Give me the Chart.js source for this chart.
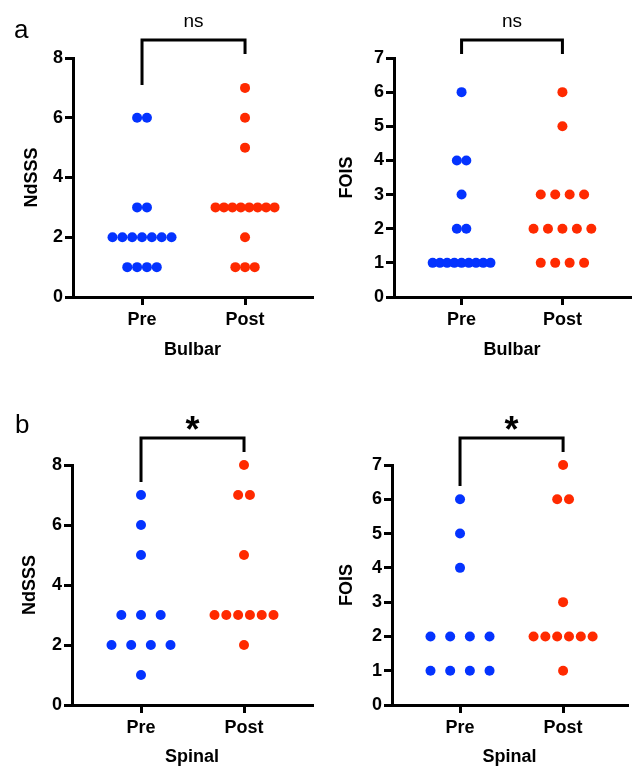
<!DOCTYPE html>
<html>
<head>
<meta charset="utf-8">
<script src="https://cdn.jsdelivr.net/npm/chart.js@4.4.0/dist/chart.umd.min.js"></script>
<style>
  html, body { margin: 0; padding: 0; background: #fff; overflow: hidden; }
  .panel { position: absolute; }
</style>
</head>
<body>
<div class="panel" style="left:0;top:0;width:317px;height:384px"><canvas id="chart1"></canvas></div>
<div class="panel" style="left:317px;top:0;width:318px;height:384px"><canvas id="chart2"></canvas></div>
<div class="panel" style="left:0;top:384px;width:317px;height:385px"><canvas id="chart3"></canvas></div>
<div class="panel" style="left:317px;top:384px;width:318px;height:385px"><canvas id="chart4"></canvas></div>
<script>
const groups = ["Pre", "Post"];

// Bulbar
const bulbarNdsssPre = [6, 6, 3, 3, 2, 2, 2, 2, 2, 2, 2, 1, 1, 1, 1];
const bulbarNdsssPost = [7, 6, 5, 3, 3, 3, 3, 3, 3, 3, 3, 2, 1, 1, 1];
const bulbarFoisPre = [6, 4, 4, 3, 2, 2, 1, 1, 1, 1, 1, 1, 1, 1, 1];
const bulbarFoisPost = [6, 5, 3, 3, 3, 3, 2, 2, 2, 2, 2, 1, 1, 1, 1];

// Spinal
const spinalNdsssPre = [7, 6, 5, 3, 3, 3, 2, 2, 2, 2, 1];
const spinalNdsssPost = [8, 7, 7, 5, 3, 3, 3, 3, 3, 3, 2];
const spinalFoisPre = [6, 5, 4, 2, 2, 2, 2, 1, 1, 1, 1];
const spinalFoisPost = [7, 6, 6, 3, 2, 2, 2, 2, 2, 2, 1];

const ndsssTicks = [0, 2, 4, 6, 8];
const foisTicks = [0, 1, 2, 3, 4, 5, 6, 7];

const BLUE = "#0433FF";
const RED = "#FF2A00";
const FONT = "'Liberation Sans', Arial, Helvetica, sans-serif";
const SWARM_WIDTH = 0.573; // column width, in x units
const MIN_STEP = 0.094;    // about one dot diameter

// spread equal values side by side, like a column scatter
function swarm(values, center) {
  const counts = {};
  values.forEach((v) => (counts[v] = (counts[v] || 0) + 1));
  const maxN = Math.max(...Object.values(counts));
  const step = maxN > 1 ? SWARM_WIDTH / (maxN - 1) : 0;
  const seen = {};
  return values.map((v) => {
    const n = counts[v];
    const i = (seen[v] = seen[v] === undefined ? 0 : seen[v] + 1);
    let s = step;
    if ((n - 1) * MIN_STEP <= SWARM_WIDTH) s = Math.max(step, MIN_STEP);
    return { x: center + (i - (n - 1) / 2) * s, y: v };
  });
}

const bracketPlugin = {
  id: "bracket",
  afterDraw(chart, args, opts) {
    const { ctx } = chart;
    const x = chart.scales.x;
    const y = chart.scales.y;
    const x0 = x.getPixelForValue(0);
    const x1 = x.getPixelForValue(1);
    const yb = y.getPixelForValue(opts.top);
    ctx.save();
    ctx.strokeStyle = "#000";
    ctx.lineWidth = 3;
    ctx.beginPath();
    ctx.moveTo(x0, y.getPixelForValue(opts.leftEnd));
    ctx.lineTo(x0, yb);
    ctx.lineTo(x1, yb);
    ctx.lineTo(x1, y.getPixelForValue(opts.rightEnd));
    ctx.stroke();
    ctx.fillStyle = "#000";
    ctx.textAlign = "center";
    ctx.textBaseline = "alphabetic";
    ctx.font = opts.font;
    ctx.fillText(opts.text, (x0 + x1) / 2, yb - opts.gap);
    if (opts.letter) {
      ctx.textAlign = "left";
      ctx.font = "26px " + FONT;
      ctx.fillText(opts.letter, opts.letterX, opts.letterY);
    }
    ctx.restore();
  },
};

function makeChart(id, p) {
  const tickFont = { family: FONT, size: 18, weight: "bold" };
  const axisLine = { display: true, color: "#000", width: 3 };
  const grid = { drawOnChartArea: false, drawTicks: true, tickLength: 8, color: "#000", lineWidth: 3 };
  return new Chart(document.getElementById(id), {
    type: "scatter",
    data: {
      datasets: [
        { data: swarm(p.pre, 0), backgroundColor: BLUE, borderWidth: 0, pointRadius: 5, clip: false },
        { data: swarm(p.post, 1), backgroundColor: RED, borderWidth: 0, pointRadius: 5, clip: false },
      ],
    },
    options: {
      responsive: true,
      maintainAspectRatio: false,
      animation: false,
      events: [],
      layout: { padding: { top: p.padTop, right: p.padRight, left: 0, bottom: 0 } },
      plugins: {
        legend: { display: false },
        tooltip: { enabled: false },
        bracket: p.bracket,
      },
      scales: {
        x: {
          type: "linear",
          min: p.xMin,
          max: p.xMax,
          afterBuildTicks: (s) => {
            s.ticks = groups.map((g, i) => ({ value: i }));
          },
          afterFit: (s) => {
            s.height = p.xH;
          },
          ticks: { callback: (v) => groups[v], font: tickFont, color: "#000", padding: 4, maxRotation: 0 },
          grid: grid,
          border: axisLine,
          title: {
            display: true,
            text: p.xTitle,
            font: tickFont,
            color: "#000",
            padding: { top: 0, bottom: p.xTitlePad },
          },
        },
        y: {
          min: p.yTicks[0],
          max: p.yTicks[p.yTicks.length - 1],
          afterBuildTicks: (s) => {
            s.ticks = p.yTicks.map((v) => ({ value: v }));
          },
          afterFit: (s) => {
            s.width = p.yW;
          },
          ticks: { font: tickFont, color: "#000", padding: 2 },
          grid: grid,
          border: axisLine,
          title: {
            display: true,
            text: p.yTitle,
            font: tickFont,
            color: "#000",
            padding: { top: p.yTitlePad, bottom: 0 },
          },
        },
      },
    },
    plugins: [bracketPlugin],
  });
}

makeChart("chart1", {
  pre: bulbarNdsssPre, post: bulbarNdsssPost, yTicks: ndsssTicks,
  xTitle: "Bulbar", yTitle: "NdSSS",
  padTop: 58, padRight: 5, yW: 73, xH: 87, xMin: -0.67, xMax: 1.65,
  xTitlePad: 23.2, yTitlePad: 21.7,
  bracket: { top: 8.6, leftEnd: 7.1, rightEnd: 8.13, text: "ns", font: "19px " + FONT, gap: 13,
    letter: "a", letterX: 14, letterY: 38 },
});

makeChart("chart2", {
  pre: bulbarFoisPre, post: bulbarFoisPost, yTicks: foisTicks,
  xTitle: "Bulbar", yTitle: "FOIS",
  padTop: 58, padRight: 0, yW: 77, xH: 87, xMin: -0.67, xMax: 1.67,
  xTitlePad: 23.2, yTitlePad: 19.7,
  bracket: { top: 7.53, leftEnd: 7.12, rightEnd: 7.12, text: "ns", font: "19px " + FONT, gap: 13 },
});

makeChart("chart3", {
  pre: spinalNdsssPre, post: spinalNdsssPost, yTicks: ndsssTicks,
  xTitle: "Spinal", yTitle: "NdSSS",
  padTop: 81, padRight: 5, yW: 72, xH: 64, xMin: -0.67, xMax: 1.66,
  xTitlePad: 1.2, yTitlePad: 19.7,
  bracket: { top: 8.9, leftEnd: 7.43, rightEnd: 8.43, text: "*", font: "bold 36px " + FONT, gap: -4,
    letter: "b", letterX: 15, letterY: 49 },
});

makeChart("chart4", {
  pre: spinalFoisPre, post: spinalFoisPost, yTicks: foisTicks,
  xTitle: "Spinal", yTitle: "FOIS",
  padTop: 81, padRight: 8, yW: 75, xH: 64, xMin: -0.66, xMax: 1.62,
  xTitlePad: 1.2, yTitlePad: 19.2,
  bracket: { top: 7.79, leftEnd: 6.39, rightEnd: 7.38, text: "*", font: "bold 36px " + FONT, gap: -4 },
});
</script>
</body>
</html>
